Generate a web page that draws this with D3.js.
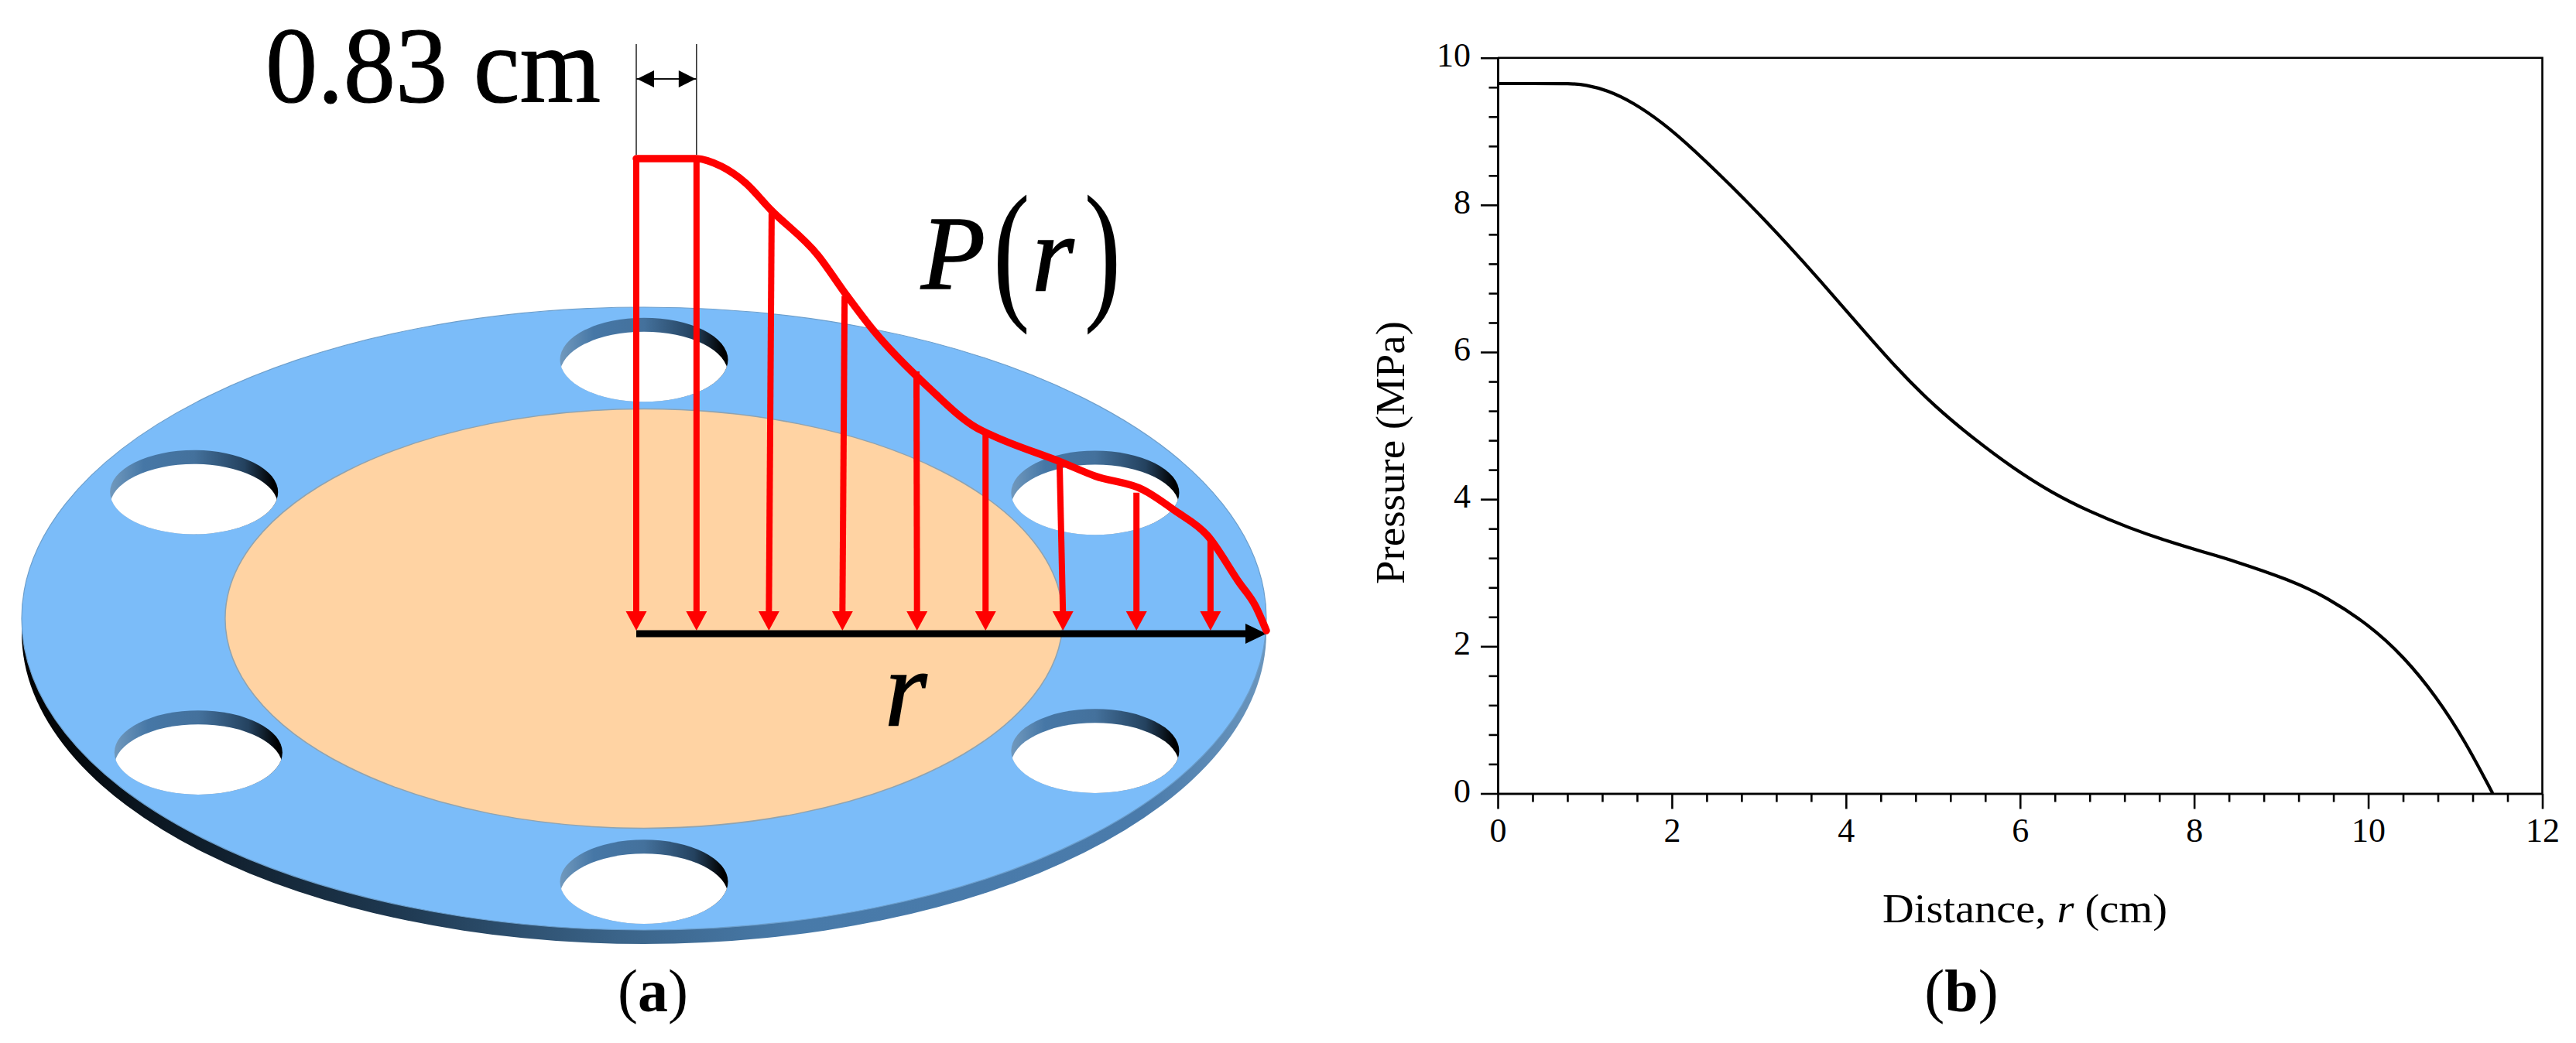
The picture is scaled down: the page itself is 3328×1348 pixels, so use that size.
<!DOCTYPE html>
<html>
<head>
<meta charset="utf-8">
<script src="https://cdn.jsdelivr.net/npm/d3@7"></script>
<style>
  body { margin: 0; background: #fff; }
  svg { display: block; }
  text { font-family: "Liberation Serif", serif; fill: #000; }
</style>
</head>
<body>
<svg id="canvas" width="3328" height="1348"></svg>
<script>
// panel (b): pressure curve
const curveR = [0, 0.4, 0.85, 1.0, 1.26, 1.56, 1.89, 2.21, 2.89, 3.34, 3.69, 4.13, 4.58, 5.02, 5.47, 5.91, 6.36, 6.8, 7.25, 7.69, 8.14, 8.41, 9.11, 9.52, 10, 10.41, 10.78, 11.11, 11.43];
const curveP = [9.65, 9.65, 9.65, 9.635, 9.56, 9.39, 9.12, 8.8, 8.02, 7.45, 6.99, 6.39, 5.78, 5.26, 4.82, 4.43, 4.09, 3.83, 3.61, 3.43, 3.27, 3.18, 2.9, 2.67, 2.3, 1.86, 1.32, 0.72, 0];
const xMajor = [0, 2, 4, 6, 8, 10, 12];
const yMajor = [0, 2, 4, 6, 8, 10];
const xMinor = d3.range(0, 60).map(i => i * 0.4).filter(v => v <= 12 && Math.abs(v / 2 - Math.round(v / 2)) > 0.01);
const yMinor = xMinor.filter(v => v <= 10);

// panel (a): hand drawn profile over the disc
const sketchR = [0, 1.09, 1.54, 1.98, 2.42, 3.29, 3.79, 4.29, 5.28, 6.15, 6.44, 7.72, 8.3, 9.17, 9.75, 10.33, 10.91, 11.2, 11.4];
const sketchP = [9.65, 9.65, 9.49, 9.15, 8.62, 7.67, 6.88, 6.14, 4.98, 4.15, 3.99, 3.43, 3.16, 2.88, 2.45, 1.95, 0.98, 0.51, 0];
const stationTopR = [0, 1.09, 2.45, 3.77, 5.07, 6.32, 7.66, 9.05, 10.39];
const stationTipR = [0, 1.09, 2.4, 3.73, 5.08, 6.32, 7.72, 9.05, 10.39];
const stationP = [9.65, 9.65, 8.58, 6.84, 5.3, 4.07, 3.4, 2.82, 1.9];

// disc plane coordinates, disc radius = 1
const holeU = [-0.723, -0.716, 0, 0, 0.725, 0.725];
const holeV = [0.406, -0.43, 0.831, -0.845, 0.404, -0.425];
const holeRadius = 0.135;
const padRadius = 0.673;

const svg = d3.select("#canvas");
const defs = svg.append("defs");

// ---- panel (b)
const x = d3.scaleLinear().domain([0, 12]).range([1935, 3284.5]);
const y = d3.scaleLinear().domain([0, 10]).range([1025.5, 74.7]);
const axisW = 2.6;

const plot = svg.append("g");
plot.append("path")
  .attr("d", `M${x(0)},${y(10)}H${x(12)}V${y(0)}`)
  .attr("fill", "none").attr("stroke", "#000").attr("stroke-width", axisW);

function styleAxis(g) {
  g.selectAll("path,line").attr("stroke", "#000").attr("stroke-width", axisW);
  g.selectAll("text").attr("fill", "#000").style("font", '44px "Liberation Serif"');
}

plot.append("g").attr("transform", `translate(0,${y(0)})`)
  .call(d3.axisBottom(x).tickValues(xMinor).tickSize(11).tickSizeOuter(0).tickFormat(""))
  .call(styleAxis);
plot.append("g").attr("transform", `translate(0,${y(0)})`)
  .call(d3.axisBottom(x).tickValues(xMajor).tickSize(20).tickSizeOuter(0).tickPadding(11.5).tickFormat(d3.format("d")))
  .call(styleAxis);
plot.append("g").attr("transform", `translate(${x(0)},0)`)
  .call(d3.axisLeft(y).tickValues(yMinor).tickSize(11.5).tickSizeOuter(0).tickFormat(""))
  .call(styleAxis);
plot.append("g").attr("transform", `translate(${x(0)},0)`)
  .call(d3.axisLeft(y).tickValues(yMajor).tickSize(22).tickSizeOuter(0).tickPadding(13).tickFormat(d3.format("d")))
  .call(styleAxis)
  .selectAll("text").attr("dy", "0.24em");

plot.append("path")
  .datum(d3.zip(curveR, curveP))
  .attr("d", d3.line().x(d => x(d[0])).y(d => y(d[1])).curve(d3.curveBasis))
  .attr("fill", "none").attr("stroke", "#000").attr("stroke-width", 4.2);

const yLabel = plot.append("text")
  .attr("transform", "translate(1814,585) rotate(-90)")
  .attr("text-anchor", "middle").attr("font-size", 52)
  .attr("textLength", 340).attr("lengthAdjust", "spacingAndGlyphs")
  .text("Pressure (MPa)");

const xLabel = plot.append("text")
  .attr("x", 2616).attr("y", 1191.7)
  .attr("text-anchor", "middle").attr("font-size", 52)
  .attr("textLength", 368).attr("lengthAdjust", "spacingAndGlyphs");
xLabel.append("tspan").text("Distance, ");
xLabel.append("tspan").attr("font-style", "italic").text("r");
xLabel.append("tspan").text(" (cm)");

// ---- panel (a)
const discX = d3.scaleLinear().domain([-1, 1]).range([28, 1636]);
const discY = d3.scaleLinear().domain([-1, 1]).range([1202, 397]);
const rx = r => discX(r) - discX(0);
const ry = r => discY(0) - discY(r);
const drop = 18;

const rimGrad = defs.append("linearGradient").attr("id", "rimGrad")
  .attr("gradientUnits", "userSpaceOnUse")
  .attr("x1", discX(-1)).attr("x2", discX(1)).attr("y1", 0).attr("y2", 0);
[[0, "#000000"], [0.1, "#0b1620"], [0.3, "#1e3850"], [0.48, "#3b6489"], [0.62, "#487aa9"], [0.9, "#4a7bab"], [1, "#6b96bd"]]
  .forEach(s => rimGrad.append("stop").attr("offset", s[0]).attr("stop-color", s[1]));

const wallGrad = defs.append("linearGradient").attr("id", "wallGrad");
[[0, "#7199bd"], [0.2, "#4677a6"], [0.5, "#44719c"], [0.8, "#24425f"], [0.97, "#000000"], [1, "#000000"]]
  .forEach(s => wallGrad.append("stop").attr("offset", s[0]).attr("stop-color", s[1]));

const disc = svg.append("g");
disc.append("ellipse")
  .attr("cx", discX(0)).attr("cy", discY(0) + drop)
  .attr("rx", rx(1)).attr("ry", ry(1))
  .attr("fill", "url(#rimGrad)");
disc.append("ellipse")
  .attr("cx", discX(0)).attr("cy", discY(0))
  .attr("rx", rx(1)).attr("ry", ry(1))
  .attr("fill", "#7bbcf9").attr("stroke", "#6d9fcc").attr("stroke-width", 1.2);
disc.append("ellipse")
  .attr("cx", discX(0)).attr("cy", discY(0))
  .attr("rx", rx(padRadius)).attr("ry", ry(padRadius))
  .attr("fill", "#ffd3a3").attr("stroke", "#8fa3b0").attr("stroke-width", 1.5);

holeU.forEach((u, i) => {
  const cx = discX(u), cy = discY(holeV[i]);
  defs.append("clipPath").attr("id", "hole" + i).append("ellipse")
    .attr("cx", cx).attr("cy", cy).attr("rx", rx(holeRadius)).attr("ry", ry(holeRadius));
  disc.append("ellipse")
    .attr("cx", cx).attr("cy", cy).attr("rx", rx(holeRadius)).attr("ry", ry(holeRadius))
    .attr("fill", "url(#wallGrad)");
  disc.append("ellipse")
    .attr("cx", cx).attr("cy", cy + drop).attr("rx", rx(holeRadius)).attr("ry", ry(holeRadius))
    .attr("fill", "#fff").attr("clip-path", `url(#hole${i})`);
});

// red load arrows and profile
const sx = d3.scaleLinear().domain([0, 11.4]).range([822, 1636]);
const sy = d3.scaleLinear().domain([0, 9.65]).range([815, 205]);
const red = "#ff0000";
const headW = 13.5, headH = 25;

const load = svg.append("g");
stationTopR.forEach((r, i) => {
  const tip = sx(stationTipR[i]);
  load.append("line")
    .attr("x1", sx(r)).attr("y1", sy(stationP[i]))
    .attr("x2", tip).attr("y2", sy(0) - headH + 2)
    .attr("stroke", red).attr("stroke-width", 8);
  load.append("path")
    .attr("d", `M${tip},${sy(0)}L${tip - headW},${sy(0) - headH}H${tip + headW}Z`)
    .attr("fill", red);
});

// radius arrow
const axisY = sy(0) + 4;
load.append("line")
  .attr("x1", sx(0)).attr("y1", axisY).attr("x2", sx(11.4) - 20).attr("y2", axisY)
  .attr("stroke", "#000").attr("stroke-width", 9);
load.append("path")
  .attr("d", `M${sx(11.4)},${axisY}L${sx(11.4) - 27},${axisY - 13}V${axisY + 13}Z`)
  .attr("fill", "#000");

load.append("path")
  .datum(d3.zip(sketchR, sketchP))
  .attr("d", d3.line().x(d => sx(d[0])).y(d => sy(d[1])).curve(d3.curveMonotoneX))
  .attr("fill", "none").attr("stroke", red).attr("stroke-width", 9.5)
  .attr("stroke-linejoin", "round").attr("stroke-linecap", "round");

// 0.83 cm dimension
const dim = svg.append("g");
[0, 1.09].forEach(r => {
  dim.append("line")
    .attr("x1", sx(r)).attr("x2", sx(r)).attr("y1", 57).attr("y2", 200)
    .attr("stroke", "#222").attr("stroke-width", 1.5);
});
const dimY = 102;
dim.append("line")
  .attr("x1", sx(0)).attr("x2", sx(1.09)).attr("y1", dimY).attr("y2", dimY)
  .attr("stroke", "#111").attr("stroke-width", 2);
dim.append("path")
  .attr("d", `M${sx(0) + 1},${dimY}l22,-11v22Z M${sx(1.09) - 1},${dimY}l-22,-11v22Z`)
  .attr("fill", "#000");

svg.append("text").attr("x", 343).attr("y", 131.7).attr("font-size", 140)
  .attr("stroke", "#000").attr("stroke-width", 1.2)
  .attr("textLength", 433).attr("lengthAdjust", "spacingAndGlyphs")
  .text("0.83 cm");

// P(r) label, brackets narrowed to the tall thin shape of the original
const pr = svg.append("g").attr("font-style", "italic").attr("stroke", "#000").attr("stroke-width", 1.5);
pr.append("text").attr("x", 1190).attr("y", 373).attr("font-size", 136).text("P");
pr.append("text").attr("x", 1333).attr("y", 375).attr("font-size", 140).text("r");
svg.append("text").attr("transform", "translate(1282.7,390) scale(0.72,1)").attr("font-size", 200).text("(");
svg.append("text").attr("transform", "translate(1400.6,390) scale(0.72,1)").attr("font-size", 200).text(")");

svg.append("text").attr("x", 1143).attr("y", 937).attr("font-size", 140)
  .attr("font-style", "italic").attr("stroke", "#000").attr("stroke-width", 1.5).text("r");

// panel captions
function caption(cx, letter) {
  const t = svg.append("text").attr("x", cx).attr("y", 1306.7)
    .attr("text-anchor", "middle").attr("font-size", 78);
  t.append("tspan").text("(");
  t.append("tspan").attr("font-weight", "bold").text(letter);
  t.append("tspan").text(")");
}
caption(843.5, "a");
caption(2534, "b");
</script>
</body>
</html>
